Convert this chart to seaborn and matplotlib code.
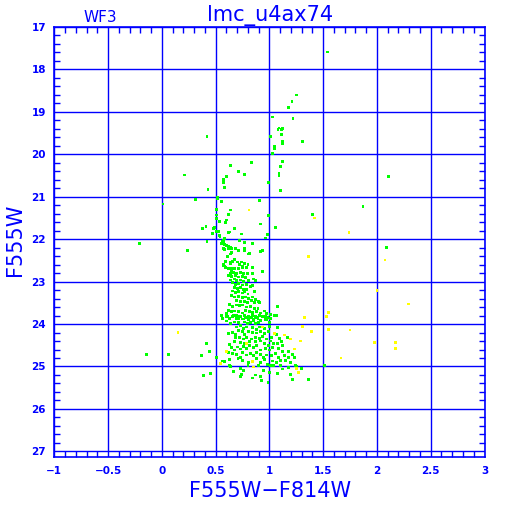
import numpy as np
import pandas as pd
import seaborn as sns
import matplotlib
matplotlib.use("Agg")
import matplotlib.pyplot as plt
from matplotlib.ticker import MultipleLocator, FixedLocator

# ---------------- data ----------------
title = "lmc_u4ax74"
chip = "WF3"
x_label = "F555W\u2212F814W"
y_label = "F555W"
x_ticks = [-1, -0.5, 0, 0.5, 1, 1.5, 2, 2.5, 3]
x_tick_labels = ["\u22121", "\u22120.5", "0", "0.5", "1", "1.5", "2", "2.5", "3"]
y_ticks = [17, 18, 19, 20, 21, 22, 23, 24, 25, 26, 27]
y_tick_labels = ["17", "18", "19", "20", "21", "22", "23", "24", "25", "26", "27"]

# bright / isolated green stars
bright_x = [1.54, 1.25, 1.21, 1.18, 1.03, 1.22, 1.09, 1.08, 1.11, 1.12, 0.42, 1.11, 1.01, 1.31,
            1.12, 1.12, 1.045, 1.045, 1.03, 1.12, 0.83, 0.635, 1.10, 0.71, 0.77, 1.09, 1.09, 0.60,
            0.57, 0.57, 0.99, 0.58, 1.10, 0.43, 0.31, 0.52, 0.52, 2.11, 0.21]
bright_y = [17.59, 18.60, 18.76, 18.89, 19.12, 19.16, 19.38, 19.41, 19.42, 19.40, 19.58, 19.54, 19.58, 19.70,
            19.69, 19.75, 19.82, 19.86, 19.99, 20.17, 20.20, 20.27, 20.29, 20.41, 20.48, 20.44, 20.50, 20.53,
            20.60, 20.66, 20.67, 20.79, 20.86, 20.83, 21.06, 21.02, 21.05, 20.53, 20.49]

# green stars 21 - 22.1 and outliers
upper_x = [0.555, 0.905, 0.505, 0.505, 0.635, 0.995, 1.40, 0.617, 0.51, 0.51, 0.535, 0.60, 0.915, 0.59,
           0.41, 0.375, 0.48, 0.49, 0.51, 0.53, 0.675, 1.06, 0.63, 0.62, 0.47, 0.74, 0.985, 0.533, 0.54,
           0.965, 0.58, 0.57, 0.42, 0.72, 1.87, 2.09, 0.01, -0.21, 0.24, -0.146, 0.06]
upper_y = [21.12, 21.09, 21.29, 21.31, 21.31, 21.44, 21.42, 21.42, 21.43, 21.51, 21.58, 21.55, 21.64, 21.60,
           21.71, 21.75, 21.75, 21.73, 21.82, 21.82, 21.75, 21.73, 21.83, 21.85, 21.86, 21.88, 21.89, 21.91, 21.94,
           21.97, 21.99, 22.03, 22.06, 22.03, 21.23, 22.20, 21.17, 22.10, 22.26, 24.71, 24.72]

# green stars 22 - 22.7
mid_x = [0.561, 0.573, 0.555, 0.567, 0.585, 0.598, 0.617, 0.629, 0.641, 0.623, 0.647, 0.573, 0.585, 0.685,
         0.771, 0.84, 0.765, 0.765, 0.815, 0.809, 0.914, 0.933, 0.647, 0.641, 0.716, 0.61, 0.672, 0.66,
         0.641, 0.635, 0.592, 0.573, 0.585, 0.598, 0.617, 0.635, 0.654, 0.672, 0.703, 0.722, 0.74, 0.753,
         0.771, 0.802, 0.747, 0.716]
mid_y = [22.06, 22.05, 22.10, 22.11, 22.13, 22.14, 22.18, 22.19, 22.19, 22.22, 22.22, 22.22, 22.24, 22.22,
         22.08, 22.11, 22.22, 22.26, 22.33, 22.35, 22.29, 22.26, 22.32, 22.35, 22.27, 22.41, 22.48, 22.52,
         22.54, 22.57, 22.52, 22.60, 22.63, 22.68, 22.70, 22.70, 22.70, 22.68, 22.54, 22.59, 22.54, 22.63,
         22.57, 22.60, 22.68, 22.68]

# green stars 22.6 - 23.9
lower_x = [0.573, 0.592, 0.629, 0.654, 0.678, 0.716, 0.747, 0.784, 0.84, 0.939, 0.647, 0.666, 0.635, 0.691,
           0.728, 0.759, 0.796, 0.846, 0.623, 0.647, 0.685, 0.716, 0.747, 0.778, 0.852, 0.871, 0.635, 0.672,
           0.697, 0.728, 0.759, 0.809, 0.66, 0.685, 0.716, 0.747, 0.79, 0.84, 0.672, 0.703, 0.734, 0.759,
           0.79, 0.821, 0.864, 0.66, 0.685, 0.716, 0.747, 0.771, 0.802, 0.846, 0.647, 0.678, 0.716, 0.747,
           0.778, 0.809, 0.871, 0.902, 0.697, 0.728, 0.765, 0.796, 0.833, 0.858, 0.908, 0.629, 0.66, 0.691,
           0.722, 0.753, 0.79, 0.827, 0.864, 0.895, 1.075, 0.957, 0.617, 0.647, 0.678, 0.716, 0.747, 0.778,
           0.815, 0.846, 0.883, 0.92, 1.007, 0.97, 0.555, 0.598, 0.697, 0.734, 0.771, 0.809, 0.84, 0.871,
           0.908, 0.939, 0.982, 1.069, 1.007, 0.561, 0.61, 0.66, 0.716, 0.759, 0.852, 0.895, 0.964]
lower_y = [22.63, 22.66, 22.69, 22.70, 22.69, 22.70, 22.64, 22.67, 22.67, 22.77, 22.75, 22.78, 22.80, 22.80,
           22.78, 22.81, 22.80, 22.81, 22.85, 22.88, 22.86, 22.89, 22.88, 22.91, 22.94, 22.97, 22.96, 22.94,
           22.97, 22.96, 23.00, 22.97, 23.03, 23.07, 23.05, 23.08, 23.07, 23.10, 23.13, 23.16, 23.13, 23.19,
           23.18, 23.11, 23.24, 23.22, 23.25, 23.24, 23.27, 23.24, 23.29, 23.36, 23.33, 23.36, 23.35, 23.38,
           23.36, 23.40, 23.43, 23.46, 23.44, 23.46, 23.47, 23.49, 23.44, 23.49, 23.49, 23.54, 23.58, 23.55,
           23.57, 23.55, 23.60, 23.58, 23.63, 23.63, 23.58, 23.69, 23.68, 23.71, 23.69, 23.71, 23.74, 23.68,
           23.71, 23.72, 23.71, 23.74, 23.77, 23.76, 23.79, 23.76, 23.79, 23.82, 23.80, 23.83, 23.80, 23.83,
           23.79, 23.82, 23.85, 23.80, 23.87, 23.87, 23.83, 23.82, 23.87, 23.88, 23.88, 23.87, 23.90]

# green stars 23.8 - 25.4
faint_x = [0.561, 0.598, 0.629, 0.666, 0.697, 0.722, 0.747, 0.778, 0.809, 0.833, 0.852, 0.883, 0.92, 0.964,
           0.97, 1.001, 1.05, 0.771, 0.796, 0.821, 0.871, 0.902, 0.716, 0.678, 0.641, 0.604,
           0.697, 0.728, 0.759, 0.79, 0.84, 0.877, 0.908, 0.951, 1.001, 1.075, 0.623, 0.66, 0.685, 0.716,
           0.747, 0.771, 0.809, 0.846, 0.883, 0.92, 0.957, 0.995, 1.02, 1.063, 1.094, 1.168, 0.685, 0.722,
           0.759, 0.79, 0.833, 0.871, 0.908, 0.933, 0.97, 1.007, 0.672, 0.728, 0.771, 0.815, 0.871, 0.914,
           0.957, 0.995, 1.038, 1.075, 1.112, 1.125,
           0.412, 0.443, 0.368, 0.511, 0.561, 0.579, 0.629, 0.617, 0.647, 0.678, 0.703, 0.728, 0.759, 0.79,
           0.815, 0.852, 0.883, 0.92, 0.964, 1.001, 1.032, 1.088, 1.119, 1.175, 1.212, 0.66, 0.697, 0.728,
           0.753, 0.784, 0.821, 0.852, 0.883, 0.92, 0.945, 0.976, 1.02, 1.057, 1.088, 1.137, 1.175, 1.23,
           0.629, 0.709, 0.753, 0.809, 0.846, 0.877, 0.914, 0.951, 0.982, 1.026, 1.069, 1.106, 1.15, 1.193,
           0.802, 0.902, 1.007, 1.038, 1.106, 0.629, 1.243, 1.255, 1.299,
           0.387, 0.449, 0.635, 0.728, 0.759, 0.666, 0.74, 0.734, 0.84, 0.871, 0.926, 0.914, 0.988, 1.075,
           1.119, 1.181, 1.193, 1.212, 1.364, 1.509, 0.945, 1.00]
faint_y = [23.88, 23.82, 23.87, 23.80, 23.87, 23.82, 23.88, 23.84, 23.90, 23.85, 23.93, 23.84, 23.91, 23.82,
           23.90, 23.96, 23.80, 23.95, 23.98, 23.96, 23.99, 23.96, 23.96, 23.95, 23.99, 23.93,
           24.07, 24.04, 24.10, 24.07, 24.09, 24.12, 24.07, 24.10, 24.06, 24.09, 24.23, 24.20, 24.24, 24.15,
           24.17, 24.24, 24.18, 24.20, 24.21, 24.18, 24.23, 24.17, 24.31, 24.24, 24.34, 24.31, 24.31, 24.32,
           24.35, 24.32, 24.35, 24.31, 24.34, 24.29, 24.35, 24.40, 24.42, 24.43, 24.45, 24.42, 24.42, 24.40,
           24.45, 24.51, 24.46, 24.45, 24.42, 24.51,
           24.46, 24.64, 24.75, 24.79, 24.87, 24.89, 24.48, 24.67, 24.56, 24.61, 24.54, 24.59, 24.53, 24.57,
           24.51, 24.56, 24.50, 24.61, 24.57, 24.61, 24.56, 24.57, 24.64, 24.65, 24.72, 24.70, 24.72, 24.79,
           24.67, 24.73, 24.70, 24.75, 24.67, 24.72, 24.79, 24.73, 24.75, 24.70, 24.79, 24.75, 24.79, 24.78,
           24.84, 24.82, 24.86, 24.90, 24.87, 24.81, 24.90, 24.84, 24.95, 24.87, 24.90, 24.86, 24.86, 24.90,
           24.97, 24.98, 24.97, 24.97, 24.97, 24.97, 24.98, 25.00, 25.05,
           25.22, 25.17, 25.00, 25.05, 25.09, 25.12, 25.19, 25.23, 25.27, 25.20, 25.33, 25.23, 25.38, 25.17,
           25.06, 25.03, 25.19, 25.31, 25.31, 24.98, 25.10, 25.15]

# yellow stars
yellow_x = [0.81, 1.42, 1.74, 2.075, 1.36, 2.0, 2.29, 1.75, 1.975, 2.17, 2.17, 1.665, 0.15, 1.553, 1.528,
            1.324, 0.933, 1.305, 1.392, 1.553, 1.292, 1.23, 1.137, 1.193, 1.05, 0.604, 0.548, 0.84, 0.852,
            1.255, 1.274, 0.784]
yellow_y = [21.31, 21.50, 21.85, 22.49, 22.41, 23.21, 23.53, 24.14, 24.44, 24.44, 24.58, 24.80, 24.20, 23.73,
            23.83, 23.84, 24.07, 24.06, 24.18, 24.12, 24.40, 24.59, 24.26, 24.35, 24.23, 24.64, 24.93, 24.89,
            25.01, 25.04, 25.15, 24.46]

# ---------------- build table ----------------
gx = bright_x + upper_x + mid_x + lower_x + faint_x
gy = bright_y + upper_y + mid_y + lower_y + faint_y
df = pd.DataFrame({
    "color": gx + yellow_x,
    "mag": gy + yellow_y,
    "group": ["g"] * len(gx) + ["y"] * len(yellow_x),
})

# ---------------- plot ----------------
sns.set_theme(style="white")
plt.rcParams["font.family"] = ["DejaVu Sans"]
BLUE = "#0000ff"

fig = plt.figure(figsize=(5.12, 5.12), dpi=100)
fig.patch.set_facecolor("white")
W = 512.0
ax = fig.add_axes([54.3 / W, 1 - 457.3 / W, (484.5 - 54.3) / W, (457.3 - 27.0) / W])
ax.set_facecolor("white")

sns.scatterplot(data=df, x="color", y="mag", hue="group",
                palette={"g": "#00ff00", "y": "#ffff00"},
                marker="s", s=4.0, linewidth=0, legend=False, ax=ax, zorder=3,
                antialiased=False)

ax.set_xlim(-1, 3)
ax.set_ylim(27.14, 17)

ax.xaxis.set_major_locator(FixedLocator(x_ticks))
ax.yaxis.set_major_locator(FixedLocator(y_ticks))
ax.xaxis.set_minor_locator(MultipleLocator(0.1))
ax.yaxis.set_minor_locator(MultipleLocator(0.2))
ax.set_xticklabels(x_tick_labels)
ax.set_yticklabels(y_tick_labels)

ax.set_axisbelow(True)
ax.grid(True, which="major", color=BLUE, linewidth=1.0, zorder=1)
for s in ax.spines.values():
    s.set_color(BLUE)
    s.set_linewidth(1.2)

ax.tick_params(which="both", direction="in", colors=BLUE, top=True, right=True,
               bottom=True, left=True, width=1.0)
ax.tick_params(which="major", length=0, pad=6, labelsize=7.5)
ax.tick_params(which="minor", length=4)
for lab in ax.get_xticklabels() + ax.get_yticklabels():
    lab.set_fontweight("bold")
    lab.set_color(BLUE)

ax.set_xlabel("")
ax.set_ylabel("")
fig.text(270 / W, 1 - 491 / W, x_label, color=BLUE, fontsize=15, ha="center", va="center")
fig.text(15 / W, 1 - 240 / W, y_label, color=BLUE, fontsize=15, ha="center", va="center",
         rotation=90)
fig.text(270 / W, 1 - 16 / W, title, color=BLUE, fontsize=15, ha="center", va="center")
fig.text(100 / W, 1 - 18 / W, chip, color=BLUE, fontsize=11, ha="center", va="center")

fig.savefig("out.png", dpi=100, facecolor="white")
